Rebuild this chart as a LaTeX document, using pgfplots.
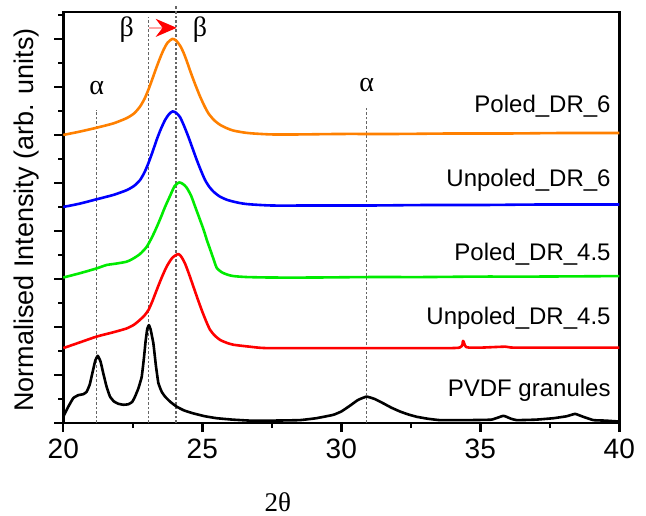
\documentclass[border=0pt]{standalone}
\usepackage{fontspec}
\setmainfont{Liberation Sans}
\newfontfamily\serif{Liberation Serif}
\usepackage{pgfplots}
\pgfplotsset{compat=1.18}
\usetikzlibrary{arrows.meta}

\definecolor{cOrange}{RGB}{255,128,0}
\definecolor{cBlue}{RGB}{0,0,255}
\definecolor{cGreen}{RGB}{0,235,0}
\definecolor{cRed}{RGB}{255,0,0}

\begin{document}
\begin{tikzpicture}
\begin{axis}[
    name=ax,
    scale only axis,
    width=278pt, height=205.5pt,
    xmin=20, xmax=40, ymin=0, ymax=8.56,
    axis line style={line width=1.4pt},
    axis x line*=box, axis y line*=box,
    xtick={20,25,30,35,40},
    minor xtick={22.5,27.5,32.5,37.5},
    ytick={0,1,...,8},
    minor ytick={0.5,1.5,...,8.5},
    yticklabels={},
    tick align=outside,
    xtick pos=bottom, ytick pos=left,
    major tick length=4.5pt, minor tick length=2.5pt,
    every tick/.style={black, line width=1.2pt},
    tick label style={font=\fontsize{14}{16}\selectfont},
    /pgf/number format/assume math mode=true,
    xlabel={\serif 2θ},
    xlabel style={font=\fontsize{13.5}{15}\selectfont, at={(axis description cs:0.386,-0.192)}, anchor=center},
    ylabel={Normalised Intensity (arb. units)},
    ylabel style={font=\fontsize{13.5}{15}\selectfont, at={(axis description cs:-0.067,0.494)}, anchor=center, rotate=0},
    every axis plot/.append style={line width=1.3pt, line join=round},
    clip=false,
]
% reference lines
\addplot[gray!80!black, densely dotted, line width=0.7pt] coordinates {(21.2,0) (21.2,6.52)};
\addplot[gray!80!black, densely dotted, line width=0.7pt] coordinates {(23.07,0) (23.07,8.46)};
\addplot[gray!80!black, densely dotted, line width=0.7pt] coordinates {(24.05,0) (24.05,8.7)};
\addplot[gray!80!black, densely dotted, line width=0.7pt] coordinates {(30.9,0) (30.9,6.56)};

% Poled_DR_6
\addplot[cOrange, smooth, tension=0.4] coordinates {
(20,6.0) (20.6,6.07) (21.2,6.15) (21.8,6.24) (22.28,6.35) (22.55,6.45) (22.76,6.59)
(22.92,6.75) (23.06,6.94) (23.2,7.16) (23.36,7.42) (23.5,7.63) (23.62,7.79) (23.75,7.92)
(23.92,8.0) (24.05,7.97) (24.2,7.86) (24.32,7.72) (24.44,7.54) (24.56,7.34) (24.68,7.15)
(24.8,6.97) (24.92,6.8) (25.07,6.61) (25.22,6.45) (25.42,6.31) (25.64,6.21) (25.88,6.14)
(26.12,6.09) (26.5,6.05) (26.83,6.03) (27.5,6.01) (28.5,6.01) (30,6.02) (32,6.02)
(34,6.03) (36,6.03) (38,6.04) (40,6.04)};
% Unpoled_DR_6
\addplot[cBlue, smooth, tension=0.4] coordinates {
(20,4.5) (20.6,4.57) (21.2,4.66) (21.8,4.75) (22.28,4.85) (22.55,4.94) (22.76,5.06)
(22.92,5.22) (23.06,5.41) (23.2,5.63) (23.36,5.9) (23.5,6.11) (23.66,6.31) (23.8,6.43)
(23.93,6.49) (24.06,6.46) (24.2,6.37) (24.35,6.18) (24.5,5.96) (24.65,5.72) (24.8,5.48)
(24.95,5.26) (25.1,5.06) (25.25,4.92) (25.4,4.82) (25.62,4.72) (25.88,4.65) (26.2,4.6)
(26.6,4.56) (27.5,4.53) (29,4.53) (31,4.53) (33,4.54) (35,4.54) (37,4.55) (40,4.55)};
% Poled_DR_4.5
\addplot[cGreen, smooth, tension=0.4] coordinates {
(20,3.03) (20.6,3.12) (21.2,3.22) (21.55,3.29) (21.9,3.32) (22.28,3.36) (22.5,3.42)
(22.76,3.52) (23.0,3.67) (23.2,3.88) (23.36,4.08) (23.5,4.27) (23.66,4.5) (23.84,4.73)
(24.0,4.93) (24.16,5.01) (24.3,4.98) (24.44,4.9) (24.6,4.73) (24.74,4.51) (24.9,4.26)
(25.05,4.02) (25.17,3.8) (25.28,3.62) (25.4,3.42) (25.52,3.23) (25.7,3.14) (25.9,3.09)
(26.12,3.06) (26.6,3.04) (27.5,3.03) (29,3.03) (31,3.04) (33,3.04) (35,3.05) (37,3.05) (40,3.06)};
% Unpoled_DR_4.5
\addplot[cRed, smooth, tension=0.4] coordinates {
(20,1.56) (20.6,1.68) (21.2,1.8) (21.8,1.89) (22.28,1.97) (22.55,2.05) (22.76,2.15)
(22.92,2.24) (23.06,2.35) (23.2,2.53) (23.36,2.77) (23.54,3.03) (23.72,3.26) (23.92,3.44)
(24.14,3.52) (24.26,3.45) (24.38,3.32) (24.53,3.09) (24.68,2.84) (24.83,2.59) (24.98,2.35)
(25.13,2.13) (25.28,1.94) (25.45,1.82) (25.64,1.73) (25.88,1.67) (26.12,1.63) (26.7,1.59)
(27.3,1.56) (29,1.56) (31,1.56) (33,1.56) (34.25,1.57) (34.38,1.71) (34.5,1.58) (35,1.57)
(35.9,1.59) (36.2,1.57) (38,1.57) (40,1.57)};
% PVDF granules
\addplot[black, smooth, tension=0.2] coordinates {
(20,0.13) (20.18,0.34) (20.36,0.52) (20.54,0.58) (20.72,0.6) (20.84,0.65) (20.95,0.8)
(21.05,1.05) (21.15,1.3) (21.24,1.40) (21.34,1.28) (21.44,1.03) (21.56,0.75) (21.68,0.55)
(21.82,0.45) (21.98,0.4) (22.16,0.38) (22.34,0.39) (22.48,0.44) (22.58,0.55) (22.7,0.72)
(22.82,0.96) (22.9,1.35) (22.96,1.7) (23.02,1.96) (23.08,2.04) (23.14,1.95) (23.24,1.66)
(23.33,1.2) (23.42,0.83) (23.54,0.65) (23.66,0.55) (23.85,0.44) (24.08,0.34) (24.35,0.26)
(24.68,0.2) (25.1,0.14) (25.52,0.1) (26.1,0.07) (26.72,0.05) (27.5,0.05) (28.5,0.06)
(29.1,0.1) (29.71,0.17) (30.0,0.24) (30.31,0.36) (30.6,0.48) (30.91,0.55) (31.2,0.5)
(31.51,0.41) (31.8,0.32) (32.11,0.24) (32.4,0.18) (32.71,0.13) (33.1,0.09) (33.55,0.06)
(34.5,0.06) (35.4,0.07) (35.83,0.15) (36.1,0.09) (36.31,0.06) (37,0.07) (37.63,0.1)
(38.1,0.14) (38.41,0.19) (38.7,0.13) (39.07,0.06) (39.5,0.05) (40,0.03)};

% peak labels
\node[font=\serif\fontsize{14}{16}\selectfont] at (axis cs:21.2,6.98) {α};
\node[font=\serif\fontsize{14}{16}\selectfont] at (axis cs:30.91,7.04) {α};
\node[font=\serif\fontsize{14}{16}\selectfont] at (axis cs:22.28,8.19) {β};
\node[font=\serif\fontsize{14}{16}\selectfont] at (axis cs:24.92,8.19) {β};
\draw[red!35, line width=0.8pt, -{Stealth[red, length=10.5pt, width=9pt]}]
    (axis cs:23.1,8.23) -- (axis cs:24.08,8.23);

% series labels
\begin{scope}[every node/.style={anchor=east, font=\fontsize{12}{14}\selectfont, inner sep=0pt}]
\node at (axis cs:39.7,6.59) {Poled\_DR\_6};
\node at (axis cs:39.7,5.06) {Unpoled\_DR\_6};
\node at (axis cs:39.7,3.52) {Poled\_DR\_4.5};
\node at (axis cs:39.7,2.18) {Unpoled\_DR\_4.5};
\node at (axis cs:39.7,0.69) {PVDF granules};
\end{scope}
\coordinate (bl) at (rel axis cs:0,0);
\end{axis}
\pgfresetboundingbox
\path[use as bounding box] ([shift={(-31.65pt,-46pt)}]bl) rectangle ([shift={(291.35pt,211.5pt)}]bl);
\end{tikzpicture}
\end{document}
